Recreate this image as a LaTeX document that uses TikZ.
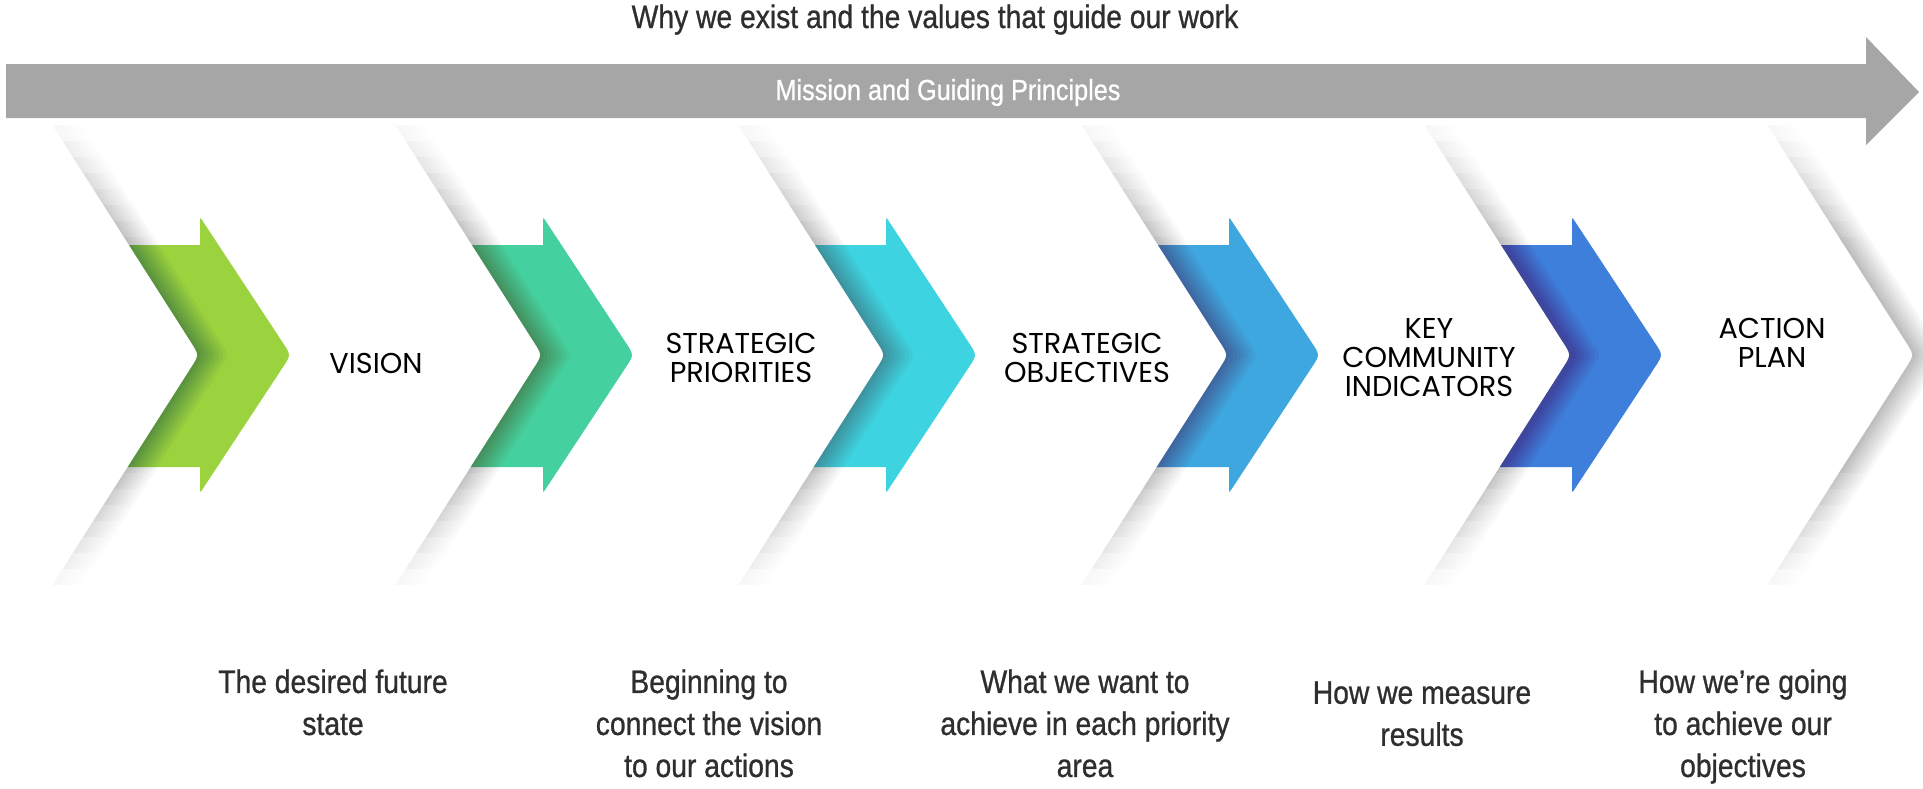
\documentclass[tikz,border=0pt]{standalone}
\usepackage{fontspec}
\newfontfamily\condfont[FakeStretch=0.87, FakeBold=0.8]{Liberation Sans}
\newfontfamily\capsfont{Poppins}

\definecolor{cGreen}{HTML}{9BD33F}
\definecolor{cTeal}{HTML}{44D19F}
\definecolor{cCyan}{HTML}{3ED3E0}
\definecolor{cSky}{HTML}{3FA7E0}
\definecolor{cBlue}{HTML}{3E7FDB}
\definecolor{bandgray}{HTML}{A6A6A6}
\definecolor{inkgray}{HTML}{2E2E2E}
\definecolor{shadowcol}{RGB}{72,72,80}

% white chevron tile whose notch vertex is at x=#1 (its point is 343 further right)
\newcommand\tilepath[2]{%
  \path[#2] (#1-150,120) -- (#1+193,120) -- (#1+334.9,342.4)
    .. controls (#1+343,355) .. (#1+334.9,367.6) -- (#1+193,590)
    -- (#1-150,590) -- (#1,355) -- cycle;}
% one layer of shadow beside the point of the tile with notch at #1,
% limited to the heights #2 (top) and #3 (bottom)
\newcommand\shadowlayer[4]{%
  \path[#4] (#1+143,#2) -- (#1+343-0.638*355+0.638*#2,#2) -- (#1+334.9,342.4)
    .. controls (#1+343,355) .. (#1+334.9,367.6)
    -- (#1+343-0.638*#3+0.638*355,#3) -- (#1+143,#3) -- cycle;}
% blurred shadow thrown to the right of a tile, fading towards top and bottom
\newcommand\tileshadow[1]{%
  \foreach \k in {0,...,7}{%
    \pgfmathsetmacro\tp{125+16*\k}%
    \pgfmathsetmacro\bt{585-16*\k}%
    \foreach \s in {1,...,8}{%
      \shadowlayer{#1}{\tp}{\bt}{fill=shadowcol, fill opacity=0.0042, xshift=\s*1.875pt}}}}
% coloured arrow sitting in the notch at x=#1
\newcommand\chevarrow[2]{%
  \fill[#2] (#1-160,245) -- (#1+1,245) -- (#1+1,222)
    .. controls (#1+1,217) .. (#1+4,221.5) -- (#1+83.7,342.5)
    .. controls (#1+92,355) .. (#1+83.7,367.5) -- (#1+4,488.5)
    .. controls (#1+1,493) .. (#1+1,488) -- (#1+1,467) -- (#1-160,467) -- cycle;}

\tikzset{
  caps/.style={font={\capsfont\fontsize{14.35}{14.5}\selectfont}, align=center,
    inner sep=0pt, anchor=north, text=black},
  desc/.style={font={\condfont\fontsize{16.25}{21}\selectfont}, align=center,
    inner sep=0pt, anchor=north, text=inkgray},
}

\begin{document}
\begin{tikzpicture}[x=0.5pt, y=-0.5pt]
\useasboundingbox (0,0) rectangle (1923,788);
\fill[white] (0,0) rectangle (1923,788);

% tiles are stacked from right to left, each one over the arrow of the next
\tileshadow{1571} \tilepath{1571}{fill=white}
\chevarrow{1571}{cBlue}
\tileshadow{1228} \tilepath{1228}{fill=white}
\chevarrow{1228}{cSky}
\tileshadow{885} \tilepath{885}{fill=white}
\chevarrow{885}{cCyan}
\tileshadow{542} \tilepath{542}{fill=white}
\chevarrow{542}{cTeal}
\tileshadow{199} \tilepath{199}{fill=white}
\chevarrow{199}{cGreen}
\tileshadow{-144} \tilepath{-144}{fill=white}

% mission band
\fill[bandgray] (6,64) -- (1866,64) -- (1866,37) -- (1919,92) -- (1866,145)
  -- (1866,118) -- (6,118) -- cycle;

\node[anchor=base, inner sep=0pt, text=inkgray,
  font={\condfont\fontsize{16.25}{21}\selectfont}] (titleText) at (935,28)
  {Why we exist and the values that guide our work};
\node[anchor=base, inner sep=0pt, text=white,
  font={\condfont\fontsize{14.5}{18}\selectfont}] (missionText) at (948,100)
  {Mission and Guiding Principles};

% stage names
\node[caps] (lblVision) at (376,353) {VISION};
\node[caps] (lblPriorities) at (741,333) {STRATEGIC\\PRIORITIES};
\node[caps] (lblObjectives) at (1087,333) {STRATEGIC\\OBJECTIVES};
\node[caps] (lblIndicators) at (1429,318) {KEY\\COMMUNITY\\INDICATORS};
\node[caps] (lblAction) at (1772,318) {ACTION\\PLAN};

% stage descriptions
\node[desc] (descVision) at (333,669) {The desired future\\state};
\node[desc] (descPriorities) at (709,669) {Beginning to\\connect the vision\\to our actions};
\node[desc] (descObjectives) at (1085,669) {What we want to\\achieve in each priority\\area};
\node[desc] (descIndicators) at (1422,681) {How we measure\\results};
\node[desc] (descAction) at (1743,669) {How we’re going\\to achieve our\\objectives};
\end{tikzpicture}
\end{document}
